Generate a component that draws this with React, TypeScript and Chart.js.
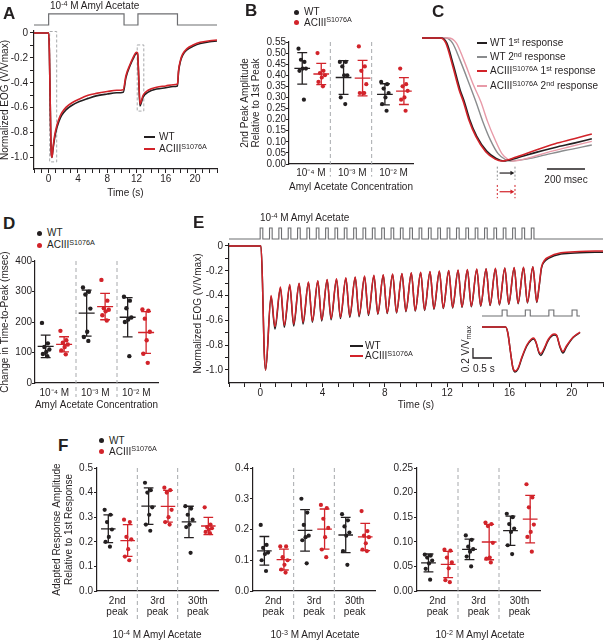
import React, { useEffect, useRef } from 'react';
import { Chart, registerables } from 'chart.js';
Chart.register(...registerables);

const FONT = "'Liberation Sans', Arial, Helvetica, sans-serif";
const INK = '#231f20';
const RED = '#d2232a';
const PINK = '#e89aa8';
const GREY = '#8a8c8e';
const STIM = '#6d6e71';
const DASH = '#a7a9ac';

// ---------------- Panel A ----------------
const A_STIM = [[-2, 0], [0, 1], [10.3, 0], [12.2, 1], [17.6, 0], [23, 0]];
const A_WT = [[-2, 0], [0, 0], [0.1, -0.15], [0.2, -0.5], [0.3, -0.85], [0.38, -0.98], [0.45, -1.0], [0.6, -0.93], [0.8, -0.85], [1.0, -0.79], [1.4, -0.71], [1.8, -0.66], [2.4, -0.615], [3.2, -0.58], [4.2, -0.55], [5.4, -0.525], [6.5, -0.505], [8, -0.49], [9.3, -0.48], [10.2, -0.475], [10.55, -0.36], [11.1, -0.265], [11.55, -0.205], [12.0, -0.165], [12.15, -0.17], [12.3, -0.35], [12.47, -0.585], [12.6, -0.57], [12.9, -0.515], [13.6, -0.475], [14.75, -0.45], [16, -0.44], [17.0, -0.43], [17.6, -0.425], [17.75, -0.31], [18.0, -0.23], [18.3, -0.18], [18.9, -0.135], [19.8, -0.105], [20.7, -0.085], [22, -0.07], [23, -0.064]];
const A_ACIII = [[-2, 0], [0, 0], [0.1, -0.15], [0.2, -0.5], [0.3, -0.85], [0.38, -0.98], [0.45, -1.0], [0.6, -0.92], [0.8, -0.83], [1.0, -0.77], [1.4, -0.69], [1.8, -0.64], [2.4, -0.595], [3.2, -0.56], [4.2, -0.53], [5.4, -0.5], [6.5, -0.485], [8, -0.47], [9.3, -0.46], [10.2, -0.455], [10.55, -0.345], [11.1, -0.255], [11.55, -0.195], [12.0, -0.155], [12.15, -0.16], [12.3, -0.34], [12.47, -0.57], [12.6, -0.555], [12.9, -0.5], [13.6, -0.46], [14.75, -0.435], [16, -0.425], [17.0, -0.415], [17.6, -0.41], [17.75, -0.3], [18.0, -0.22], [18.3, -0.17], [18.9, -0.125], [19.8, -0.095], [20.7, -0.075], [22, -0.062], [23, -0.056]];
const A_BOX1 = [[0.14, 0.012], [1.1, 0.012], [1.1, -1.035], [0.14, -1.035], [0.14, 0.012]];
const A_BOX2 = [[12.1, -0.096], [13.0, -0.096], [13.0, -0.627], [12.1, -0.627], [12.1, -0.096]];
const A_XTICKS = [-2, -1, 0, 1, 2, 3, 4, 5, 6, 7, 8, 9, 10, 11, 12, 13, 14, 15, 16, 17, 18, 19, 20, 21, 22, 23];
const T_XLABELS = [0, 4, 8, 12, 16, 20];
const EOG_YTICKS = [0, -0.1, -0.2, -0.3, -0.4, -0.5, -0.6, -0.7, -0.8, -0.9, -1.0];

// ---------------- Panel B ----------------
const CONC_LABELS = ['10⁻⁴ M', '10⁻³ M', '10⁻² M'];
const B_WT = [[0.52, 0.46, 0.47, 0.43, 0.43, 0.42, 0.29], [0.46, 0.46, 0.44, 0.40, 0.40, 0.30, 0.27], [0.37, 0.36, 0.34, 0.32, 0.30, 0.27, 0.24]];
const B_ACIII = [[0.50, 0.42, 0.41, 0.40, 0.39, 0.37, 0.35], [0.53, 0.44, 0.42, 0.36, 0.32, 0.32, 0.32], [0.43, 0.36, 0.35, 0.33, 0.30, 0.29, 0.24]];
const B_YTICKS = [0, 0.05, 0.1, 0.15, 0.2, 0.25, 0.3, 0.35, 0.4, 0.45, 0.5, 0.55];

// ---------------- Panel C ----------------
const C_WT1 = [[0, 0], [100, 0], [130, -0.04], [165, -0.22], [200, -0.42], [223, -0.52], [250, -0.66], [288, -0.8], [340, -0.92], [390, -0.98], [428, -1.0], [500, -0.975], [600, -0.93], [700, -0.89], [800, -0.855], [893, -0.82]];
const C_WT2 = [[0, 0], [125, 0], [160, -0.04], [200, -0.18], [250, -0.38], [284, -0.52], [320, -0.68], [360, -0.83], [400, -0.94], [440, -0.99], [465, -1.0], [550, -0.985], [650, -0.95], [750, -0.915], [893, -0.87]];
const C_AC1 = [[0, 0], [95, 0], [125, -0.04], [160, -0.22], [195, -0.42], [218, -0.52], [245, -0.66], [283, -0.8], [335, -0.925], [385, -0.985], [420, -1.0], [500, -0.965], [600, -0.91], [700, -0.86], [800, -0.82], [893, -0.78]];
const C_AC2 = [[0, 0], [140, 0], [180, -0.04], [220, -0.18], [270, -0.38], [310, -0.52], [345, -0.68], [385, -0.83], [420, -0.94], [455, -0.99], [478, -1.0], [560, -0.975], [660, -0.93], [760, -0.89], [893, -0.84]];
const C_SCALEBAR = [[657, -1.065], [857, -1.065]];
const C_BRACKET_WT = [[[396, -1.046], [396, -1.154]], [[489, -1.046], [489, -1.154]]];
const C_BRACKET_AC = [[[396, -1.195], [396, -1.303]], [[489, -1.195], [489, -1.303]]];
const C_ARROW_WT = [[408, -1.098], [472, -1.098]];
const C_ARROW_AC = [[408, -1.25], [472, -1.25]];

// ---------------- Panel D ----------------
const D_WT = [[197, 130, 118, 110, 102, 95, 88], [313, 299, 290, 244, 168, 151, 138], [283, 270, 245, 215, 208, 200, 88]];
const D_ACIII = [[171, 140, 132, 126, 118, 107, 94], [338, 270, 245, 240, 235, 222, 205], [241, 237, 211, 168, 140, 96, 66]];
const D_YTICKS = [0, 100, 200, 300, 400];

// ---------------- Panel E ----------------
const E_PULSE_ON = [0, 0.6, 1.2, 1.8, 2.4, 3.0, 3.6, 4.2, 4.8, 5.4, 6.0, 6.6, 7.2, 7.8, 8.4, 9.0, 9.6, 10.2, 10.8, 11.4, 12.0, 12.6, 13.2, 13.8, 14.4, 15.0, 15.6, 16.2, 16.8, 17.4];
const E_PULSE_W = 0.17;
const E_TROUGH_T = [0.35, 0.95, 1.55, 2.15, 2.75, 3.35, 3.95, 4.55, 5.15, 5.75, 6.35, 6.95, 7.55, 8.15, 8.75, 9.35, 9.95, 10.55, 11.15, 11.75, 12.35, 12.95, 13.55, 14.15, 14.75, 15.35, 15.95, 16.55, 17.15, 17.75];
const E_PEAK_T = [0.70, 1.30, 1.90, 2.50, 3.10, 3.70, 4.30, 4.90, 5.50, 6.10, 6.70, 7.30, 7.90, 8.50, 9.10, 9.70, 10.30, 10.90, 11.50, 12.10, 12.70, 13.30, 13.90, 14.50, 15.10, 15.70, 16.30, 16.90, 17.50];
const E_WT_TROUGH = [-1.0, -0.67, -0.655, -0.645, -0.63, -0.615, -0.605, -0.595, -0.585, -0.575, -0.57, -0.56, -0.55, -0.545, -0.54, -0.53, -0.525, -0.52, -0.51, -0.505, -0.5, -0.495, -0.49, -0.485, -0.48, -0.475, -0.47, -0.465, -0.46, -0.455];
const E_AC_TROUGH = [-1.0, -0.65, -0.64, -0.63, -0.615, -0.605, -0.595, -0.585, -0.575, -0.565, -0.56, -0.55, -0.545, -0.54, -0.535, -0.525, -0.52, -0.515, -0.505, -0.5, -0.495, -0.49, -0.485, -0.48, -0.475, -0.47, -0.465, -0.46, -0.455, -0.45];
const E_WT_PEAK = [-0.41, -0.34, -0.32, -0.305, -0.295, -0.285, -0.275, -0.27, -0.262, -0.255, -0.248, -0.242, -0.236, -0.23, -0.225, -0.22, -0.215, -0.21, -0.205, -0.2, -0.197, -0.193, -0.19, -0.186, -0.183, -0.18, -0.177, -0.174, -0.17];
const E_AC_PEAK = [-0.40, -0.33, -0.31, -0.30, -0.29, -0.28, -0.27, -0.265, -0.257, -0.25, -0.243, -0.237, -0.231, -0.226, -0.221, -0.216, -0.211, -0.206, -0.201, -0.197, -0.193, -0.19, -0.186, -0.183, -0.18, -0.177, -0.174, -0.171, -0.167];
const E_LEAD = [[-2, 0], [0.05, 0], [0.15, -0.3], [0.25, -0.82]];
const E_WT_TAIL = [[17.9, -0.33], [18.05, -0.18], [18.25, -0.125], [18.5, -0.1], [19.3, -0.065], [20.5, -0.055], [22, -0.05]];
const E_AC_TAIL = [[17.9, -0.32], [18.05, -0.17], [18.25, -0.115], [18.5, -0.09], [19.3, -0.055], [20.5, -0.045], [22, -0.04]];
const E_XTICKS = [-2, -1, 0, 1, 2, 3, 4, 5, 6, 7, 8, 9, 10, 11, 12, 13, 14, 15, 16, 17, 18, 19, 20, 21, 22];

// inset
const IN_PULSE_ON = [0.53, 1.14, 1.76, 2.37];
const IN_PULSE_W = 0.13;
const IN_END = 2.58;
const IN_WT = [[0, 0], [0.62, 0], [0.68, -0.12], [0.75, -0.5], [0.81, -0.81], [0.87, -0.9], [0.95, -0.84], [1.05, -0.62], [1.18, -0.38], [1.3, -0.26], [1.36, -0.24], [1.42, -0.31], [1.5, -0.52], [1.55, -0.57], [1.62, -0.48], [1.75, -0.26], [1.9, -0.16], [1.96, -0.17], [2.05, -0.4], [2.13, -0.52], [2.22, -0.4], [2.4, -0.21], [2.58, -0.11]];
const IN_AC = [[0, 0], [0.62, 0], [0.68, -0.12], [0.75, -0.5], [0.81, -0.8], [0.87, -0.88], [0.95, -0.82], [1.05, -0.6], [1.18, -0.36], [1.3, -0.24], [1.36, -0.22], [1.42, -0.3], [1.5, -0.5], [1.55, -0.53], [1.62, -0.45], [1.75, -0.24], [1.9, -0.14], [1.96, -0.16], [2.05, -0.38], [2.13, -0.49], [2.22, -0.38], [2.4, -0.2], [2.58, -0.1]];
const IN_SCALEBAR = [[-0.237, -0.42], [-0.237, -0.62], [0.263, -0.62]];

// ---------------- Panel F ----------------
const PEAK_LABELS = [['2nd', 'peak'], ['3rd', 'peak'], ['30th', 'peak']];
const F1_WT = [[0.33, 0.31, 0.28, 0.25, 0.22, 0.20, 0.18], [0.44, 0.41, 0.40, 0.34, 0.31, 0.27, 0.245], [0.345, 0.335, 0.31, 0.29, 0.27, 0.26, 0.155]];
const F1_ACIII = [[0.29, 0.28, 0.22, 0.21, 0.17, 0.14, 0.125], [0.42, 0.41, 0.40, 0.33, 0.30, 0.28, 0.27], [0.34, 0.27, 0.26, 0.255, 0.25, 0.24, 0.235]];
const F2_WT = [[0.215, 0.15, 0.14, 0.125, 0.12, 0.10, 0.065], [0.30, 0.255, 0.215, 0.18, 0.175, 0.165, 0.09], [0.25, 0.23, 0.21, 0.19, 0.18, 0.13, 0.085]];
const F2_ACIII = [[0.145, 0.145, 0.11, 0.10, 0.085, 0.07, 0.06], [0.28, 0.27, 0.235, 0.205, 0.175, 0.135, 0.11], [0.26, 0.195, 0.18, 0.175, 0.155, 0.135, 0.13]];
const F3_WT = [[0.074, 0.072, 0.068, 0.062, 0.056, 0.045, 0.023], [0.113, 0.104, 0.09, 0.085, 0.08, 0.07, 0.05], [0.157, 0.15, 0.136, 0.127, 0.12, 0.093, 0.075]];
const F3_ACIII = [[0.084, 0.082, 0.068, 0.058, 0.046, 0.022, 0.018], [0.139, 0.136, 0.132, 0.098, 0.068, 0.066, 0.058], [0.217, 0.19, 0.17, 0.135, 0.12, 0.11, 0.08]];
const F1_YTICKS = [0, 0.1, 0.2, 0.3, 0.4, 0.5];
const F2_YTICKS = [0, 0.1, 0.2, 0.3, 0.4];
const F3_YTICKS = [0, 0.05, 0.1, 0.15, 0.2, 0.25];

// dot spread inside a column (fraction of the jitter width)
const JITTER = [-1, 0.6, -0.35, 1, 0.15, -0.75, 0.45];

// ---------------- helpers ----------------
type XY = { x: number; y: number | null };
const toXY = (a: number[][]): XY[] => a.map(([x, y]) => ({ x, y }));
const polylines = (lines: number[][][]): XY[] => {
  const out: XY[] = [];
  lines.forEach((l, i) => {
    if (i > 0) out.push({ x: l[0][0], y: null });
    l.forEach(([x, y]) => out.push({ x, y }));
  });
  return out;
};
const steps = (ons: number[], w: number, start: number, end: number) => {
  const out: number[][] = [[start, 0]];
  ons.forEach((t) => { out.push([t, 1]); out.push([t + w, 0]); });
  out.push([end, 0]);
  return out;
};
const interleave = (tt: number[], tv: number[], pt: number[], pv: number[]) => {
  const out: number[][] = [];
  tt.forEach((t, i) => { out.push([t, tv[i]]); if (i < pt.length) out.push([pt[i], pv[i]]); });
  return out;
};
const mean = (a: number[]) => a.reduce((s, v) => s + v, 0) / a.length;
const sd = (a: number[]) => { const m = mean(a); return Math.sqrt(a.reduce((s, v) => s + (v - m) ** 2, 0) / (a.length - 1)); };

const line = (data: XY[], color: string, width: number, extra: any = {}) => ({
  type: 'line', data, borderColor: color, backgroundColor: color, borderWidth: width,
  pointRadius: 0, pointHoverRadius: 0, tension: 0, fill: false, spanGaps: false, ...extra,
});
const dots = (data: XY[], color: string, r: number) => ({
  type: 'line', data, showLine: false, pointRadius: r, pointHoverRadius: r, pointBorderWidth: 0,
  pointBackgroundColor: color, borderColor: color, backgroundColor: color,
});

function groupSets(groups: number[][], offset: number, color: string, dim: { cap: number; mean: number; r: number; jit: number }) {
  const pts: XY[] = [];
  const bars: number[][][] = [];
  groups.forEach((vals, i) => {
    const cx = i + offset;
    vals.forEach((v, k) => pts.push({ x: cx + JITTER[k] * dim.jit, y: v }));
    const m = mean(vals);
    const s = sd(vals);
    bars.push([[cx - dim.mean, m], [cx + dim.mean, m]]);
    bars.push([[cx, m - s], [cx, m + s]]);
    bars.push([[cx - dim.cap, m + s], [cx + dim.cap, m + s]]);
    bars.push([[cx - dim.cap, m - s], [cx + dim.cap, m - s]]);
  });
  return [dots(pts, color, dim.r), line(polylines(bars), color, 1.3)];
}

const separators = (top: number, bottom: number) =>
  line(polylines([[[1, top], [1, bottom]], [[2, top], [2, bottom]]]), DASH, 1, { borderDash: [4, 3], clip: false, order: 5 });

const base = (padding: any, scales: any) => ({
  responsive: false,
  animation: false,
  events: [],
  layout: { padding, autoPadding: false },
  plugins: { legend: { display: false }, tooltip: { enabled: false }, title: { display: false } },
  scales,
});

function axis(o: {
  min: number; max: number; vertical: boolean; size: number; ticks: number[];
  label: (v: number) => any; tickLen: number; pad: number;
  title?: { text: any; lh: number; pt?: number; pb?: number };
}) {
  return {
    type: 'linear',
    min: o.min,
    max: o.max,
    afterBuildTicks: (s: any) => { s.ticks = o.ticks.map((v) => ({ value: v })); },
    afterFit: (s: any) => { if (o.vertical) s.width = o.size; else s.height = o.size; },
    grid: { display: true, drawOnChartArea: false, drawTicks: o.tickLen > 0, tickLength: o.tickLen, tickColor: INK, tickWidth: 1, color: INK },
    border: { display: true, color: INK, width: 1.2 },
    ticks: {
      autoSkip: false, maxRotation: 0, minRotation: 0, padding: o.pad, color: INK, includeBounds: false,
      font: { family: FONT, size: 10, lineHeight: 1.15 },
      callback: (v: number) => o.label(v),
    },
    title: o.title
      ? { display: true, text: o.title.text, color: INK, font: { family: FONT, size: 10, lineHeight: o.title.lh }, padding: { top: o.title.pt || 0, bottom: o.title.pb || 0 } }
      : { display: false },
  };
}

const eogLabel = (v: number) => (Math.abs(v) < 1e-9 ? '0' : Math.round(v * 10) % 2 === 0 ? v.toFixed(1) : '');
const timeLabel = (v: number) => (T_XLABELS.includes(v) ? String(v) : '');

// ---------------- chart configs ----------------
function cfgA() {
  return {
    type: 'line',
    data: {
      datasets: [
        line(toXY(A_STIM), STIM, 1.2, { yAxisID: 'ys', stepped: true, clip: false, order: 4 }),
        line(polylines([A_BOX1, A_BOX2]), DASH, 1, { borderDash: [3, 2], clip: false, order: 3 }),
        line(toXY(A_WT), INK, 1.6, { cubicInterpolationMode: 'monotone', order: 1 }),
        line(toXY(A_ACIII), RED, 1.6, { cubicInterpolationMode: 'monotone', order: 0 }),
      ],
    },
    options: base({ top: 31, right: 5, bottom: 0, left: 0 }, {
      x: axis({ min: -2, max: 23, vertical: false, size: 31, ticks: A_XTICKS, label: timeLabel, tickLen: 4, pad: 0, title: { text: 'Time (s)', lh: 1.2, pb: 1 } }),
      y: axis({ min: -1.092, max: 0.016, vertical: true, size: 34, ticks: EOG_YTICKS, label: eogLabel, tickLen: 4, pad: 2, title: { text: 'Normalized EOG (V/Vmax)', lh: 1.1, pt: 0 } }),
      ys: { type: 'linear', display: false, min: -13.045, max: -0.545 },
    }),
  };
}

function cfgB() {
  const dim = { cap: 0.12, mean: 0.19, r: 2.1, jit: 0.09 };
  return {
    type: 'line',
    data: {
      datasets: [
        separators(0.55, -0.057),
        ...groupSets(B_WT, 0.32, INK, dim),
        ...groupSets(B_ACIII, 0.78, RED, dim),
      ],
    },
    options: base({ top: 12, right: 2, bottom: 0, left: 0 }, {
      x: axis({ min: 0, max: 3, vertical: false, size: 36, ticks: [0.53, 1.53, 2.53], label: (v) => CONC_LABELS[Math.floor(v)], tickLen: 0, pad: 3, title: { text: 'Amyl Acetate Concentration', lh: 1.2, pb: 7 } }),
      y: axis({ min: 0, max: 0.55, vertical: true, size: 59, ticks: B_YTICKS, label: (v) => v.toFixed(2), tickLen: 3, pad: 0, title: { text: ['2nd Peak Amplitude', 'Relative to 1st Peak'], lh: 1.1, pt: 9.5 } }),
    }),
  };
}

function cfgC() {
  return {
    type: 'line',
    data: {
      datasets: [
        line(toXY(C_WT2), GREY, 1.4, { cubicInterpolationMode: 'monotone', order: 4 }),
        line(toXY(C_AC2), PINK, 1.4, { cubicInterpolationMode: 'monotone', order: 3 }),
        line(toXY(C_WT1), INK, 1.6, { cubicInterpolationMode: 'monotone', order: 2 }),
        line(toXY(C_AC1), RED, 1.6, { cubicInterpolationMode: 'monotone', order: 1 }),
        line(toXY(C_SCALEBAR), INK, 1.5),
        line(polylines(C_BRACKET_WT), GREY, 1, { borderDash: [2, 2] }),
        line(polylines(C_BRACKET_AC), RED, 1, { borderDash: [2, 2] }),
        { ...line(toXY(C_ARROW_WT), INK, 1.2), pointRadius: [0, 2.6], pointStyle: 'triangle', pointRotation: 90, pointBackgroundColor: INK, pointBorderWidth: 0 },
        { ...line(toXY(C_ARROW_AC), RED, 1.2), pointRadius: [0, 2.6], pointStyle: 'triangle', pointRotation: 90, pointBackgroundColor: RED, pointBorderWidth: 0 },
      ],
    },
    options: base(0, {
      x: { type: 'linear', display: false, min: -10.5, max: 936 },
      y: { type: 'linear', display: false, min: -1.366, max: 0.065 },
    }),
  };
}

function cfgD() {
  const dim = { cap: 0.12, mean: 0.195, r: 2.2, jit: 0.09 };
  return {
    type: 'line',
    data: {
      datasets: [
        separators(400, -46),
        ...groupSets(D_WT, 0.26, INK, dim),
        ...groupSets(D_ACIII, 0.71, RED, dim),
      ],
    },
    options: base({ top: 11, right: 4, bottom: 0, left: 0 }, {
      x: axis({ min: 0, max: 3, vertical: false, size: 27, ticks: [0.47, 1.47, 2.47], label: (v) => CONC_LABELS[Math.floor(v)], tickLen: 0, pad: 4, title: { text: 'Amyl Acetate Concentration', lh: 1, pb: 0 } }),
      y: axis({ min: 0, max: 400, vertical: true, size: 35, ticks: D_YTICKS, label: (v) => String(v), tickLen: 3, pad: 0, title: { text: 'Change in Time-to-Peak (msec)', lh: 1, pt: 0 } }),
    }),
  };
}

function cfgE() {
  const wt = [...E_LEAD, ...interleave(E_TROUGH_T, E_WT_TROUGH, E_PEAK_T, E_WT_PEAK), ...E_WT_TAIL];
  const ac = [...E_LEAD, ...interleave(E_TROUGH_T, E_AC_TROUGH, E_PEAK_T, E_AC_PEAK), ...E_AC_TAIL];
  return {
    type: 'line',
    data: {
      datasets: [
        line(toXY(steps(E_PULSE_ON, E_PULSE_W, -2, 22)), STIM, 1.1, { yAxisID: 'ys', stepped: true, clip: false, order: 4 }),
        line(toXY(wt), INK, 1.5, { cubicInterpolationMode: 'monotone', order: 1 }),
        line(toXY(ac), RED, 1.5, { cubicInterpolationMode: 'monotone', order: 0 }),
      ],
    },
    options: base({ top: 39, right: 2, bottom: 0, left: 0 }, {
      x: axis({ min: -2, max: 22, vertical: false, size: 32, ticks: E_XTICKS, label: timeLabel, tickLen: 4, pad: 0, title: { text: 'Time (s)', lh: 1.2, pb: 4 } }),
      y: axis({ min: -1.105, max: 0.016, vertical: true, size: 39, ticks: EOG_YTICKS, label: eogLabel, tickLen: 4, pad: 2, title: { text: 'Normalized EOG (V/Vmax)', lh: 1.2, pt: 2 } }),
      ys: { type: 'linear', display: false, min: -13.09, max: -0.4545 },
    }),
  };
}

function cfgInset() {
  return {
    type: 'line',
    data: {
      datasets: [
        line(toXY(steps(IN_PULSE_ON, IN_PULSE_W, 0, IN_END)), STIM, 1.1, { yAxisID: 'ys', stepped: true, order: 4 }),
        line(toXY(IN_WT), INK, 1.5, { cubicInterpolationMode: 'monotone', order: 1 }),
        line(toXY(IN_AC), RED, 1.5, { cubicInterpolationMode: 'monotone', order: 0 }),
        line(toXY(IN_SCALEBAR), INK, 1.3),
      ],
    },
    options: base(0, {
      x: { type: 'linear', display: false, min: -0.526, max: 2.763 },
      y: { type: 'linear', display: false, min: -1.06, max: 0.54 },
      ys: { type: 'linear', display: false, min: -10.667, max: 2.667 },
    }),
  };
}

function cfgF(wtG: number[][], acG: number[][], max: number, yticks: number[], digits: number, ySize: number, below: number, title: any) {
  const dim = { cap: 0.12, mean: 0.18, r: 2.1, jit: 0.09 };
  return () => ({
    type: 'line',
    data: {
      datasets: [
        separators(max, below),
        ...groupSets(wtG, 0.28, INK, dim),
        ...groupSets(acG, 0.76, RED, dim),
      ],
    },
    options: base({ top: 13, right: 2, bottom: 0, left: 0 }, {
      x: axis({ min: 0, max: 3, vertical: false, size: 49, ticks: [0.5, 1.5, 2.5], label: (v) => PEAK_LABELS[Math.floor(v)], tickLen: 0, pad: 4 }),
      y: axis({ min: 0, max, vertical: true, size: ySize, ticks: yticks, label: (v) => v.toFixed(digits), tickLen: 3, pad: 1, title }),
    }),
  });
}

// ---------------- components ----------------
function ChartCanvas({ left, top, width, height, make }: { left: number; top: number; width: number; height: number; make: () => any }) {
  const ref = useRef<HTMLCanvasElement | null>(null);
  useEffect(() => {
    if (!ref.current) return;
    const chart = new Chart(ref.current, make());
    return () => chart.destroy();
  }, []);
  return <canvas ref={ref} width={width} height={height} style={{ position: 'absolute', left, top, width, height }} />;
}

const Sup = ({ children }: any) => <span style={{ fontSize: '0.72em', position: 'relative', top: '-0.45em' }}>{children}</span>;
const Sub = ({ children }: any) => <span style={{ fontSize: '0.72em', position: 'relative', top: '0.25em' }}>{children}</span>;

function T({ x, y, children, size = 10, bold = false, align = 'left', rotate = false }: any) {
  const tx = align === 'left' ? '0' : align === 'center' ? '-50%' : '-100%';
  return (
    <div
      style={{
        position: 'absolute', left: x, top: y, whiteSpace: 'nowrap', lineHeight: 1, fontSize: size,
        fontWeight: bold ? 700 : 400, color: INK,
        transform: rotate ? 'translate(-50%,-50%) rotate(-90deg)' : `translate(${tx},-50%)`,
      }}
    >
      {children}
    </div>
  );
}
const LineKey = ({ x, y, w, color }: any) => (
  <div style={{ position: 'absolute', left: x, top: y - 1, width: w, height: 2, background: color }} />
);
const DotKey = ({ x, y, color }: any) => (
  <div style={{ position: 'absolute', left: x - 2.5, top: y - 2.5, width: 5, height: 5, borderRadius: '50%', background: color }} />
);
const ACIII = () => <>ACIII<Sup>S1076A</Sup></>;

export default function App() {
  return (
    <div style={{ position: 'absolute', left: 0, top: 0, width: 605, height: 640, overflow: 'hidden', background: '#fff', fontFamily: FONT, color: INK }}>
      <ChartCanvas left={0} top={0} width={222} height={200} make={cfgA} />
      <ChartCanvas left={230} top={30} width={185} height={170} make={cfgB} />
      <ChartCanvas left={420} top={30} width={180} height={176} make={cfgC} />
      <ChartCanvas left={0} top={250} width={162} height={160} make={cfgD} />
      <ChartCanvas left={190} top={205} width={415} height={210} make={cfgE} />
      <ChartCanvas left={462} top={300} width={125} height={80} make={cfgInset} />
      <ChartCanvas left={50} top={455} width={170} height={185}
        make={cfgF(F1_WT, F1_ACIII, 0.5, F1_YTICKS, 1, 47, -0.126, { text: ['Adapted Response Amplitude', 'Relative to 1st Response'], lh: 1.2, pt: 1 })} />
      <ChartCanvas left={225} top={455} width={152} height={185} make={cfgF(F2_WT, F2_ACIII, 0.4, F2_YTICKS, 1, 28, -0.1, undefined)} />
      <ChartCanvas left={389} top={455} width={153} height={185} make={cfgF(F3_WT, F3_ACIII, 0.25, F3_YTICKS, 2, 28, -0.063, undefined)} />

      {/* panel letters */}
      <T x={3} y={12.5} size={17} bold>A</T>
      <T x={245} y={10} size={17} bold>B</T>
      <T x={432} y={10.5} size={17} bold>C</T>
      <T x={3} y={223} size={17} bold>D</T>
      <T x={193} y={221.5} size={17} bold>E</T>
      <T x={58} y={444.5} size={17} bold>F</T>

      {/* A */}
      <T x={50} y={6}>10<Sup>-4</Sup> M Amyl Acetate</T>
      <LineKey x={144} y={137} w={11} color={INK} />
      <T x={159} y={137}>WT</T>
      <LineKey x={144} y={149} w={11} color={RED} />
      <T x={159} y={149}><ACIII /></T>

      {/* B */}
      <DotKey x={296} y={12.3} color={INK} />
      <T x={304} y={12.3}>WT</T>
      <DotKey x={296} y={22.7} color={RED} />
      <T x={304} y={22.7}><ACIII /></T>

      {/* C */}
      <LineKey x={477} y={43} w={10} color={INK} />
      <T x={490} y={43}>WT 1<Sup>st</Sup> response</T>
      <LineKey x={477} y={57} w={10} color={GREY} />
      <T x={490} y={57}>WT 2<Sup>nd</Sup> response</T>
      <LineKey x={477} y={71} w={10} color={RED} />
      <T x={490} y={71}><ACIII /> 1<Sup>st</Sup> response</T>
      <LineKey x={477} y={86} w={10} color={PINK} />
      <T x={490} y={86}><ACIII /> 2<Sup>nd</Sup> response</T>
      <T x={566} y={180} align="center">200 msec</T>

      {/* D */}
      <DotKey x={39} y={233.3} color={INK} />
      <T x={47} y={233.3}>WT</T>
      <DotKey x={39} y={245} color={RED} />
      <T x={47} y={245}><ACIII /></T>

      {/* E */}
      <T x={260} y={218}>10<Sup>-4</Sup> M Amyl Acetate</T>
      <LineKey x={350} y={346} w={13} color={INK} />
      <T x={365} y={346}>WT</T>
      <LineKey x={350} y={356} w={13} color={RED} />
      <T x={365} y={356}><ACIII /></T>
      <T x={466} y={349} rotate>0.2 V/V<Sub>max</Sub></T>
      <T x={473} y={368.5}>0.5 s</T>

      {/* F */}
      <DotKey x={101} y={440.7} color={INK} />
      <T x={109} y={440.7}>WT</T>
      <DotKey x={101} y={451.7} color={RED} />
      <T x={109} y={451.7}><ACIII /></T>
      <T x={157} y={635} align="center">10<Sup>-4</Sup> M Amyl Acetate</T>
      <T x={315} y={635} align="center">10<Sup>-3</Sup> M Amyl Acetate</T>
      <T x={480} y={635} align="center">10<Sup>-2</Sup> M Amyl Acetate</T>
    </div>
  );
}
